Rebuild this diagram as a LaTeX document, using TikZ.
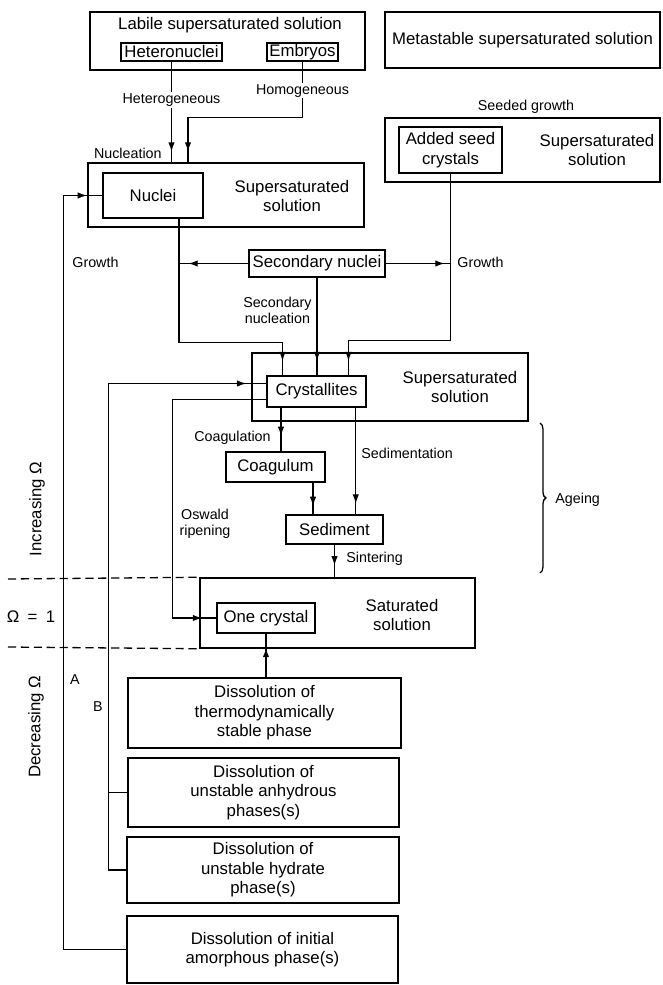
\documentclass[tikz,border=0pt]{standalone}
\usepackage{fontspec}
\setmainfont{Liberation Sans}
\usepackage{tikz}
\usetikzlibrary{arrows.meta, positioning, calc, decorations.markings, decorations.pathreplacing}

\newcommand{\boxfont}{\fontsize{14.3}{16.6}\selectfont}
\newcommand{\lblfont}{\fontsize{12.2}{13.5}\selectfont}

\tikzset{
  box/.style={draw, line width=1.3pt, inner sep=0pt, align=center, font=\boxfont},
  sz/.style 2 args={minimum width=#1*0.03cm, minimum height=#2*0.03cm},
  txt/.style={align=center, font=\boxfont, inner sep=1pt},
  lbl/.style={align=center, font=\lblfont, inner sep=1pt},
  link/.style={line width=1.1pt},
  tipat/.style={postaction={decorate},
    decoration={markings, mark=at position #1 with {\arrow{Latex[length=8pt,width=5.5pt]}}}},
  zone/.style={line width=1.1pt, dash pattern=on 7pt off 4pt},
}

\begin{document}
\begin{tikzpicture}[x=0.03cm, y=-0.03cm]
  \useasboundingbox (0,0) rectangle (662,985);

  % --- Top row: labile and metastable solutions ---
  \node[box, sz={275}{58}] (labile) at (227.5,41) {};
  \node[txt] (labiletxt) at (230,25) {Labile supersaturated solution};
  \node[box, sz={101}{18}] (hetero) at (171.5,52) {Heteronuclei};
  \node[box, sz={71}{18}] (embryos) at (302.5,52) {Embryos};
  \node[box, sz={275}{56}] (metastable) at (522.5,40) {Metastable supersaturated solution};

  % --- Seeded growth ---
  \node[lbl] (seededtxt) at (526,107) {Seeded growth};
  \node[box, sz={275}{64}] (seedsup) at (522.5,150) {};
  \node[box, sz={103}{46}] (seeds) at (450.5,150) {Added seed\\crystals};
  \node[txt] (seedsuptxt) at (597,150) {Supersaturated\\solution};

  % --- Nuclei ---
  \node[box, sz={276}{64}] (nucsup) at (226,195) {};
  \node[box, sz={100}{45}] (nuclei) at (153,195.5) {Nuclei};
  \node[txt] (nucsuptxt) at (292,196) {Supersaturated\\solution};
  \node[box, sz={136}{27}] (secnuc) at (317,263.5) {Secondary nuclei};

  % --- Crystallites and ageing ---
  \node[box, sz={276}{68}] (cryssup) at (390,387) {};
  \node[box, sz={99}{31}] (cryst) at (316.5,391.5) {Crystallites};
  \node[txt] (cryssuptxt) at (460,387) {Supersaturated\\solution};
  \node[box, sz={99}{30}] (coag) at (275.5,467) {Coagulum};
  \node[box, sz={97}{29}] (sed) at (334.5,529.5) {Sediment};

  % --- Saturated solution ---
  \node[box, sz={275}{70}] (satsol) at (337.5,613) {};
  \node[box, sz={98}{30}] (onecryst) at (266,618) {One crystal};
  \node[txt] (satsoltxt) at (402,615) {Saturated\\solution};

  % --- Dissolving phases ---
  \node[box, sz={273}{70}] (thermo) at (264.5,713) {Dissolution of\\thermodynamically\\stable phase};
  \node[box, sz={271}{69}] (anhyd) at (263.5,792.5) {Dissolution of\\unstable anhydrous\\phases(s)};
  \node[box, sz={272}{66}] (hydr) at (263,870) {Dissolution of\\unstable hydrate\\phase(s)};
  \node[box, sz={271}{67}] (amorph) at (262.5,949.5) {Dissolution of initial\\amorphous phase(s)};

  % Nucleation
  \draw[link, tipat=-9pt] (hetero.south) -- (hetero.south |- nucsup.north)
    node[lbl, fill=white, pos=0.38] {Heterogeneous};
  \draw[link, tipat=-9pt] (embryos.south) -- ++(0,56)
    node[lbl, fill=white, pos=0.52] {Homogeneous}
    -| ($(nucsup.north)+(-38,0)$);
  \node[lbl, anchor=east] (nucltxt) at (163,153) {Nucleation};

  % Growth paths A and B
  \draw[link, tipat=-13pt] (amorph.west) -| ($(nuclei.west)+(-39,0)$) -- (nuclei.west);
  \node[lbl, anchor=west] (growthA) at (71,262) {Growth};
  \node[lbl] (Atxt) at (75,680) {A};
  \draw[link, tipat=-17pt] (hydr.west) -| ($(cryst.west)+(-158,-8)$) -- ($(cryst.west)+(0,-8)$);
  \draw[link] (anhyd.west) -- ++(-19,0);
  \node[lbl] (Btxt) at (98,707) {B};

  % Oswald ripening
  \draw[link, tipat=-12pt] ($(cryst.west)+(0,8)$) -| ($(onecryst.west)+(-44,0)$) -- (onecryst.west);
  \node[lbl] (oswtxt) at (205,524) {Oswald\\ripening};

  % Nuclei and secondary nuclei to crystallites
  \coordinate (nucdrop) at ($(nuclei.south)+(26,0)$);
  \draw[link, tipat=-12pt] (nucdrop) -- ++(0,124) -| ($(cryst.north)+(-34,0)$);
  \draw[link, tipat=-8pt] (secnuc.west) -- (secnuc.west -| nucdrop);
  \draw[link, tipat=-5pt] (secnuc.east) -- (secnuc.east -| seeds.south);
  \draw[link, tipat=-12pt] (secnuc.south) -- (secnuc.south |- cryst.north);
  \node[lbl, anchor=east] (secntxt) at (313,310) {Secondary\\nucleation};
  \node[lbl, anchor=west] (growthB) at (456,262) {Growth};
  \draw[link, tipat=-12pt] (seeds.south) -- ++(0,167) -| ($(cryst.north)+(32,0)$);

  % Ageing
  \coordinate (coagin) at ($(cryst.south)+(-35.5,0)$);
  \coordinate (sedin) at ($(cryst.south east)+(-11,0)$);
  \coordinate (coagout) at ($(coag.south)+(37.5,0)$);
  \draw[link, tipat=-13pt] (coagin) -- (coagin |- coag.north);
  \node[lbl, anchor=east] (coagtxt) at (272,438) {Coagulation};
  \draw[link, tipat=-9pt] (sedin) -- (sedin |- sed.north);
  \node[lbl, anchor=west] (sedtxt) at (360,453) {Sedimentation};
  \draw[link, tipat=-7pt] (coagout) -- (coagout |- sed.north);
  \draw[link, tipat=-10pt] (sed.south) -- (sed.south |- satsol.north);
  \node[lbl, anchor=west] (sintxt) at (345,559) {Sintering};
  \draw[link, decorate, decoration={brace, amplitude=5pt}] (540,423) -- (540,573);
  \node[lbl, anchor=west] (agetxt) at (554,500) {Ageing};

  % Dissolution feeds the saturated solution
  \draw[link, tipat=-12pt] (onecryst.south |- thermo.north) -- (onecryst.south);

  % Supersaturation zones
  \draw[zone] (8,579) -- (satsol.north west);
  \draw[zone] (8,647) -- (satsol.south west);
  \node[txt, rotate=90] (inctxt) at (37,509) {Increasing Ω};
  \node[txt] (eqtxt) at (31,617) {Ω\enspace=\enspace1};
  \node[txt, rotate=90] (dectxt) at (36,727) {Decreasing Ω};
\end{tikzpicture}
\end{document}
